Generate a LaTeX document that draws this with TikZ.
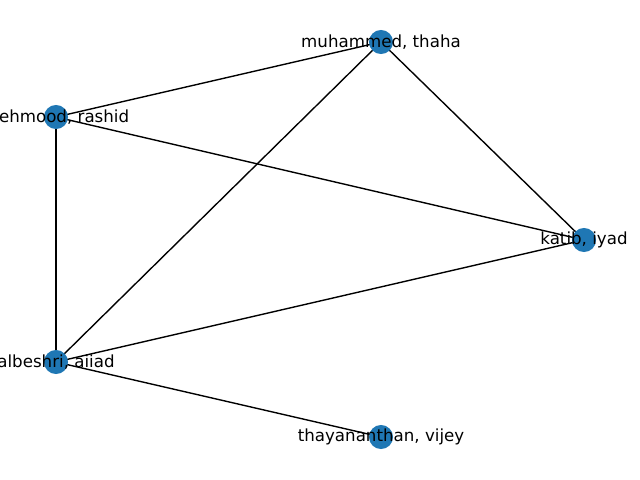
\documentclass[tikz,border=0pt]{standalone}
\usepackage{fontspec}
\setmainfont{DejaVu Sans}
\definecolor{nodeblue}{HTML}{1F77B4}
\begin{document}
\begin{tikzpicture}[x=0.72pt,y=-0.72pt,
  vtx/.style={circle,fill=nodeblue,draw=none,minimum size=17.3pt,inner sep=0pt},
  lbl/.style={font=\fontsize{12pt}{14pt}\selectfont,inner sep=0pt},
  edge/.style={draw=black,line width=1pt}]
\useasboundingbox (0,0) rectangle (640,480);
\clip (0,0) rectangle (640,480);
\coordinate (muh) at (381,42);
\coordinate (meh) at (56,117);
\coordinate (kat) at (584,240);
\coordinate (alb) at (56,362);
\coordinate (tha) at (381,437);
\draw[edge] (muh) -- (meh);
\draw[edge] (muh) -- (kat);
\draw[edge] (muh) -- (alb);
\draw[edge] (meh) -- (kat);
\draw[edge] (meh) -- (alb);
\draw[edge] (kat) -- (alb);
\draw[edge] (alb) -- (tha);
\node[vtx] (vmuh) at (muh) {};
\node[vtx] (vmeh) at (meh) {};
\node[vtx] (vkat) at (kat) {};
\node[vtx] (valb) at (alb) {};
\node[vtx] (vtha) at (tha) {};
\node[lbl] (lmuh) at (muh) {muhammed, thaha};
\node[lbl] (lmeh) at (meh) {mehmood, rashid};
\node[lbl] (lkat) at (kat) {katib, iyad};
\node[lbl] (lalb) at (alb) {albeshri, aiiad};
\node[lbl] (ltha) at (tha) {thayananthan, vijey};
\end{tikzpicture}
\end{document}
